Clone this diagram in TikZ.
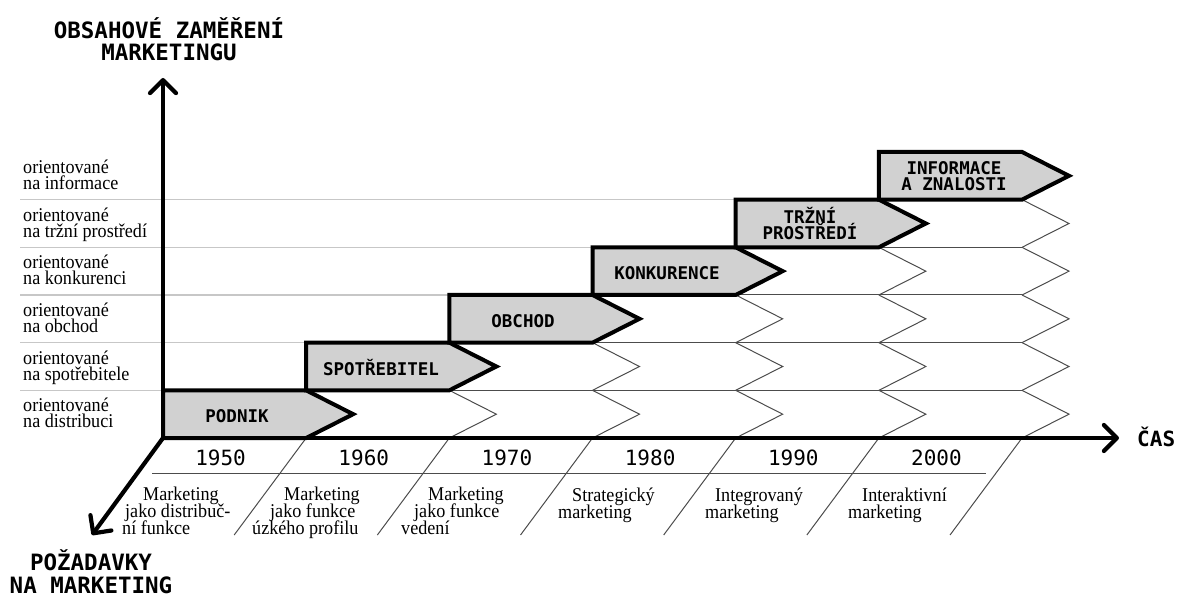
\documentclass[tikz,border=0pt]{standalone}
\usepackage{fontspec}
\usetikzlibrary{arrows.meta}
\newfontfamily\serifface[FakeStretch=0.93]{Liberation Serif}
\newfontfamily\monoface{DejaVu Sans Mono}

\begin{document}
\begin{tikzpicture}[x=1pt,y=-1pt,
  lightrule/.style={draw=black!22, line width=1.4pt},
  gridrule/.style={draw=black!70, line width=1pt},
  chevron/.style={draw=black, fill=black!18, line width=4pt, line join=miter},
  axisline/.style={line width=4.2pt, line cap=round,
    -{Straight Barb[length=13pt,width=26pt,round]}},
  rowlab/.style={font=\serifface\fontsize{19.5pt}{15.8pt}\selectfont,
    align=left, anchor=base west, inner sep=0pt},
  notelab/.style={font=\serifface\fontsize{19.5pt}{17pt}\selectfont,
    anchor=base west, inner sep=0pt},
  chevlab/.style={font=\monoface\bfseries\fontsize{17.5pt}{16.5pt}\selectfont,
    align=center, anchor=base, inner sep=0pt},
  yearlab/.style={font=\monoface\fontsize{21pt}{21pt}\selectfont,
    anchor=base, inner sep=0pt},
  headlab/.style={font=\monoface\bfseries\fontsize{22.5pt}{22.4pt}\selectfont,
    align=center, anchor=base, inner sep=0pt}
]
\useasboundingbox (0,0) rectangle (1180,596);

% grid geometry (pixel units)
\def\Xo{163}\def\cw{143.17}\def\rh{47.67}\def\ax{438}\def\pt{47}

% light rules to the left of the staircase
\foreach \j in {1,...,5}{
  \pgfmathsetmacro\yy{\ax-\rh*\j}
  \pgfmathsetmacro\xe{\Xo+\cw*(\j-1)}
  \draw[lightrule] (20,\yy) -- (\xe,\yy);
}
% thin rules to the right of the staircase
\foreach \j in {1,...,4}{
  \pgfmathsetmacro\yy{\ax-\rh*\j}
  \pgfmathsetmacro\xs{\Xo+\cw*(\j+1)}
  \pgfmathsetmacro\xe{\Xo+\cw*6}
  \draw[gridrule] (\xs,\yy) -- (\xe,\yy);
}
% thin zigzags in every row after its own chevron
\foreach \r in {0,...,4}{
  \pgfmathtruncatemacro\ks{\r+2}
  \pgfmathsetmacro\yb{\ax-\rh*\r}
  \pgfmathsetmacro\yt{\yb-\rh}
  \pgfmathsetmacro\ym{\yb-\rh/2}
  \foreach \k in {\ks,...,6}{
    \pgfmathsetmacro\xk{\Xo+\cw*\k}
    \draw[gridrule] (\xk,\yt) -- (\xk+\pt,\ym) -- (\xk,\yb);
  }
}
% slanted column dividers below the time axis
\foreach \k in {1,...,6}{
  \pgfmathsetmacro\xk{\Xo+\cw*\k}
  \draw[gridrule] (\xk,\ax) -- ++(-72,97);
}
% rule under the years
\draw[gridrule] (152,473) -- (986,473);

% thick chevrons of the staircase
\foreach \r in {0,...,5}{
  \pgfmathsetmacro\xa{\Xo+\cw*\r}
  \pgfmathsetmacro\xb{\Xo+\cw*(\r+1)}
  \pgfmathsetmacro\yb{\ax-\rh*\r}
  \pgfmathsetmacro\yt{\yb-\rh}
  \pgfmathsetmacro\ym{\yb-\rh/2}
  \draw[chevron] (\xa,\yt) -- (\xb,\yt) -- (\xb+\pt,\ym) -- (\xb,\yb)
    -- (\xa,\yb) -- cycle;
}

% axes
\coordinate (O) at (163,438);
\coordinate (ytip) at (163,78);
\coordinate (xtip) at (1119,438);
\coordinate (ztip) at (92,535);
\draw[axisline] (O) -- (ytip);
\draw[axisline] (O) -- (xtip);
\draw[axisline] (O) -- (ztip);

% chevron labels (base = baseline of the last line)
\node[chevlab] (cl0) at (237,422.7) {PODNIK};
\node[chevlab] (cl1) at (381,375.0) {SPOTŘEBITEL};
\node[chevlab] (cl2) at (523,327.4) {OBCHOD};
\node[chevlab] (cl3) at (667,279.7) {KONKURENCE};
\node[chevlab] (cl4) at (810,239.5) {TRŽNÍ\\PROSTŘEDÍ};
\node[chevlab] (cl5) at (954,190.7) {INFORMACE\\A ZNALOSTI};

% row labels
\node[rowlab] (rl0) at (23,427.7) {orientované\\na distribuci};
\node[rowlab] (rl1) at (23,380.0) {orientované\\na spotřebitele};
\node[rowlab] (rl2) at (23,332.3) {orientované\\na obchod};
\node[rowlab] (rl3) at (23,284.7) {orientované\\na konkurenci};
\node[rowlab] (rl4) at (23,237.0) {orientované\\na tržní prostředí};
\node[rowlab] (rl5) at (23,189.3) {orientované\\na informace};

% years
\foreach \k/\yr in {0/1950,1/1960,2/1970,3/1980,4/1990,5/2000}{
  \pgfmathsetmacro\xc{\Xo+\cw*\k+71.6-14}
  \node[yearlab] (yr\k) at (\xc,465) {\yr};
}

% stages of marketing
\foreach \nm/\x/\y/\t in {
  a1/143/500/Marketing, a2/125/517/{jako distribuč-}, a3/122/534/{ní funkce},
  b1/284/500/Marketing, b2/270/517/{jako funkce}, b3/252/534/{úzkého profilu},
  c1/428/500/Marketing, c2/414/517/{jako funkce}, c3/401/534/{vedení},
  d1/572/501/{Strategický}, d2/558/518/marketing,
  e1/715/501/{Integrovaný}, e2/705/518/marketing,
  f1/862/501/{Interaktivní}, f2/848/518/marketing}{
  \node[notelab] (nt\nm) at (\x,\y) {\t};
}

% axis titles
\node[headlab] (ttl) at (169,60.7) {OBSAHOVÉ ZAMĚŘENÍ\\MARKETINGU};
\node[headlab] (btl) at (91,593) {POŽADAVKY\\NA MARKETING};
\node[font=\monoface\bfseries\fontsize{21pt}{21pt}\selectfont,
  anchor=base west, inner sep=0pt] (cas) at (1137,446.5) {ČAS};
\end{tikzpicture}
\end{document}
